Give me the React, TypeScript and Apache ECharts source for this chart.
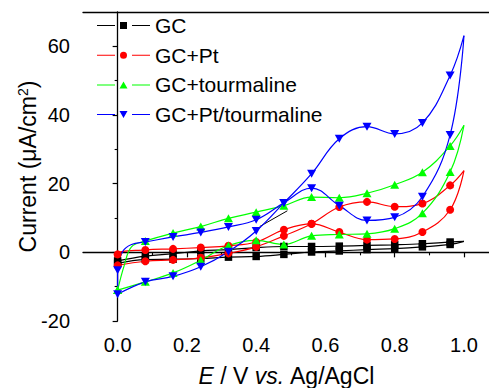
import { useEffect, useRef } from 'react';
import * as echarts from 'echarts';

// Potential grid (V vs. Ag/AgCl) where the curves were read
const E_STD = [0, 0.08, 0.16, 0.24, 0.32, 0.4, 0.48, 0.56, 0.64, 0.72, 0.8, 0.88, 0.96, 1.0];
const E_TOUR_FWD = [0, 0.02, 0.04, 0.08, 0.16, 0.24, 0.32, 0.4, 0.48, 0.56, 0.64, 0.72, 0.8, 0.88, 0.96, 1.0];
const E_PTTOUR_REV = [0, 0.015, 0.04, 0.08, 0.16, 0.24, 0.32, 0.4, 0.48, 0.56, 0.64, 0.72, 0.8, 0.88, 0.96, 1.0];

// Current density (µA/cm²)
const gcFwd = [-2.5, -1.1, -0.4, 0.4, 0.8, 1.4, 1.7, 1.7, 1.8, 2.0, 2.2, 2.5, 3.0, 3.2];
const gcRev = [-3.2, -2.1, -2.0, -1.8, -1.4, -1.2, -0.6, 0.1, 0.4, 0.8, 1.1, 1.6, 2.3, 3.2];

const ptFwd = [-3.8, -2.6, -2.2, -1.6, -0.3, 1.6, 4.8, 8.3, 13.2, 14.7, 13.3, 14.2, 19.5, 23.8];
const ptRev = [-0.6, 0.7, 1.0, 1.4, 1.9, 3.0, 6.6, 8.3, 5.9, 3.7, 3.9, 5.9, 12.4, 23.8];

const tourFwd = [-11.0, -3.5, 1.6, 3.3, 5.6, 7.5, 9.9, 11.7, 13.6, 16.1, 15.9, 17.2, 19.7, 23.3, 31.0, 37.0];
const tourRev = [-11.0, -8.6, -6.0, -2.3, 2.0, 3.5, 2.3, 4.8, 5.2, 5.4, 6.9, 11.4, 23.4, 37.0];

const ptTourFwd = [-12.2, -8.6, -7.0, -4.2, 0.2, 6.2, 14.4, 22.9, 33.1, 36.6, 34.5, 37.7, 51.5, 63.1];
const ptTourRev = [-5.2, 0.3, 2.3, 3.0, 4.5, 5.8, 7.4, 9.5, 14.4, 18.7, 13.6, 9.3, 10.2, 16.2, 34.2, 63.1];

// short stray black segment
const segE = [0.41, 0.49];
const segI = [7.5, 12.1];

const NAMES = ['GC', 'GC+Pt', 'GC+tourmaline', 'GC+Pt/tourmaline'];
const X_MAJOR = [0, 0.2, 0.4, 0.6, 0.8, 1.0];
const X_MINOR = [0.1, 0.3, 0.5, 0.7, 0.9];
const Y_MAJOR = [-20, 0, 20, 40, 60];
const Y_MINOR = [-10, 10, 30, 50];

const FONT = "'Liberation Sans', Arial, Helvetica, sans-serif";

const isMarker = (e: number) => e < 0.99 && Math.abs(e / 0.08 - Math.round(e / 0.08)) < 1e-6;

function makeData(es: number[], vs: number[], symbol: string, reverse: boolean, close?: number[]) {
  let pts = es.map((e, i) => [e, vs[i]]);
  if (reverse) pts = pts.slice().reverse();
  const data: any[] = pts.map((p) => ({ value: p, symbol: isMarker(p[0]) ? symbol : 'none' }));
  if (close) data.push({ value: close, symbol: 'none' });
  return data;
}

function branch(name: string, color: string, symbol: string, rotate: number, size: any, data: any[]) {
  return {
    type: 'line',
    name,
    data,
    smooth: 0.4,
    symbol,
    symbolSize: size,
    symbolRotate: rotate,
    showSymbol: true,
    lineStyle: { color, width: 1.2 },
    itemStyle: { color, borderWidth: 0 },
    emphasis: { disabled: true },
  };
}

const L = 'M0,3H18V4H0Z M35,3H53V4H35Z ';
const ICONS = [
  'path://' + L + 'M23,0H30V7H23Z',
  'path://' + L + 'M23,3.5A3.5,3.5 0 1,1 30,3.5A3.5,3.5 0 1,1 23,3.5Z',
  'path://' + L + 'M26.5,0L30.5,7H22.5Z',
  'path://' + L + 'M22.5,0H30.5L26.5,7Z',
];

export default function App() {
  const ref = useRef<HTMLDivElement>(null);
  useEffect(() => {
    if (!ref.current) return;
    const chart = echarts.init(ref.current, undefined, { renderer: 'svg' });
    const axisLine = { show: true, lineStyle: { color: '#000', width: 1.3 } };
    const option: any = {
      animation: false,
      backgroundColor: '#fff',
      grid: { left: 83, top: 12, right: -9.6, bottom: 67, containLabel: false, outerBoundsMode: 'none' },
      legend: {
        orient: 'vertical',
        left: 97,
        top: 15,
        padding: 0,
        itemWidth: 53,
        itemHeight: 7,
        itemGap: 8.7,
        selectedMode: false,
        itemStyle: { borderWidth: 0 },
        textStyle: { fontSize: 21, color: '#000', fontFamily: FONT, lineHeight: 21 },
        data: NAMES.map((n, i) => ({ name: n, icon: ICONS[i] })),
      },
      xAxis: [
        {
          type: 'value', min: -0.1, max: 1.1, position: 'bottom',
          axisLine,
          axisTick: { show: true, customValues: X_MAJOR, length: 5, lineStyle: { color: '#000', width: 1.2 } },
          axisLabel: { customValues: X_MAJOR, formatter: (v: number) => v.toFixed(1), fontSize: 20, color: '#000', fontFamily: FONT, margin: 14 },
          splitLine: { show: false },
          name: '{i|E} / V {i|vs.} Ag/AgCl',
          nameLocation: 'middle',
          nameGap: 43,
          nameMoveOverlap: false,
          nameTextStyle: {
            fontSize: 23, color: '#000', fontFamily: FONT, padding: [0, 8, 0, 0],
            rich: { i: { fontStyle: 'italic', fontSize: 23, fontFamily: FONT, color: '#000' } },
          },
        },
        {
          type: 'value', min: -0.1, max: 1.1, position: 'bottom',
          axisLine: { show: false },
          axisTick: { show: true, customValues: X_MINOR, length: 3, lineStyle: { color: '#000', width: 1.1 } },
          axisLabel: { show: false },
          splitLine: { show: false },
        },
        {
          type: 'value', min: -0.1, max: 1.1, position: 'top',
          axisLine,
          axisTick: { show: false },
          axisLabel: { show: false },
          splitLine: { show: false },
        },
      ],
      yAxis: [
        {
          type: 'value', min: -20, max: 70, position: 'left',
          axisLine,
          axisTick: { show: true, customValues: Y_MAJOR, length: 5, lineStyle: { color: '#000', width: 1.2 } },
          axisLabel: { customValues: Y_MAJOR, fontSize: 20, color: '#000', fontFamily: FONT, margin: 13 },
          splitLine: { show: false },
          name: 'Current (μA/cm{sup|2})',
          nameLocation: 'middle',
          nameGap: 44,
          nameMoveOverlap: false,
          nameTextStyle: {
            fontSize: 23, color: '#000', fontFamily: FONT,
            rich: { sup: { fontSize: 14, fontFamily: FONT, color: '#000', verticalAlign: 'top', lineHeight: 23 } },
          },
        },
        {
          type: 'value', min: -20, max: 70, position: 'left',
          axisLine: { show: false },
          axisTick: { show: true, customValues: Y_MINOR, length: 3, lineStyle: { color: '#000', width: 1.1 } },
          axisLabel: { show: false },
          splitLine: { show: false },
        },
      ],
      series: [
        {
          type: 'line', name: 'segment', data: segE.map((e, i) => [e, segI[i]]),
          symbol: 'none', lineStyle: { color: '#000', width: 1 }, silent: true, emphasis: { disabled: true },
        },
        branch('GC', '#000000', 'rect', 0, 7.5, makeData(E_STD, gcFwd, 'rect', false)),
        branch('GC', '#000000', 'rect', 0, 7.5, makeData(E_STD, gcRev, 'rect', true, [0, gcFwd[0]])),
        branch('GC+Pt', '#ff0000', 'circle', 0, 8, makeData(E_STD, ptFwd, 'circle', false)),
        branch('GC+Pt', '#ff0000', 'circle', 0, 8, makeData(E_STD, ptRev, 'circle', true, [0, ptFwd[0]])),
        branch('GC+tourmaline', '#00ff00', 'triangle', 0, [9, 8], makeData(E_TOUR_FWD, tourFwd, 'triangle', false)),
        branch('GC+tourmaline', '#00ff00', 'triangle', 0, [9, 8], makeData(E_STD, tourRev, 'triangle', true)),
        branch('GC+Pt/tourmaline', '#0000ff', 'triangle', 180, [9, 8], makeData(E_STD, ptTourFwd, 'triangle', false)),
        branch('GC+Pt/tourmaline', '#0000ff', 'triangle', 180, [9, 8], makeData(E_PTTOUR_REV, ptTourRev, 'triangle', true, [0, ptTourFwd[0]])),
      ],
    };
    chart.setOption(option);
    return () => chart.dispose();
  }, []);
  return <div ref={ref} style={{ position: 'fixed', left: 0, top: 0, width: 489, height: 388, background: '#fff' }} />;
}
